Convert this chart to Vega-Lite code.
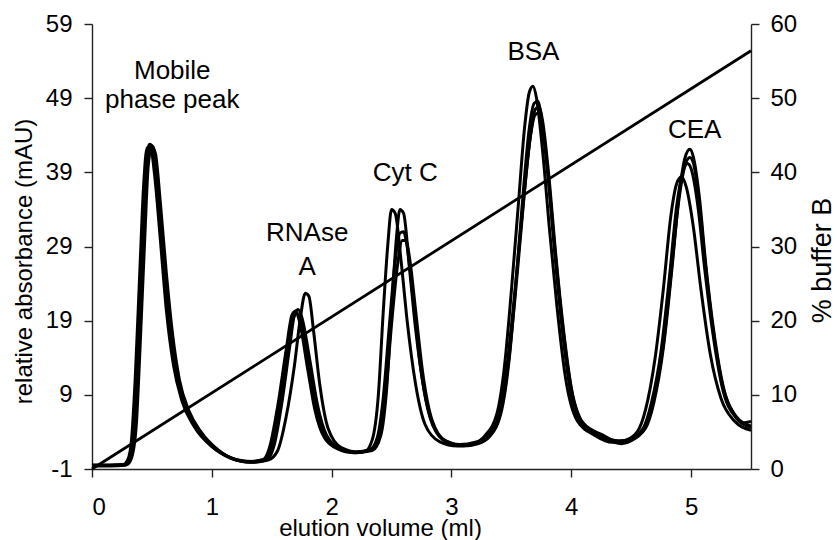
{
"$schema": "https://vega.github.io/schema/vega-lite/v6.json",
"width": 659, "height": 445,
"autosize": "none",
"padding": {"left": 92, "top": 24, "right": 86, "bottom": 71},
"background": "white",
"config": {
  "view": {"stroke": null},
  "font": "Liberation Sans",
  "axis": {"grid": false, "domainColor": "#222", "domainWidth": 1.4, "tickColor": "#222", "tickWidth": 1.4, "tickSize": 8, "labelFont": "Liberation Sans", "labelFontSize": 24, "labelColor": "black", "titleFont": "Liberation Sans", "titleFontWeight": "normal", "titleColor": "black"}
},
"datasets": {
  "traces": [
{"run":"A","v":0,"a":-0.5},{"run":"A","v":0.15,"a":-0.5},{"run":"A","v":0.26,"a":-0.4},{"run":"A","v":0.3,"a":0.3},{"run":"A","v":0.33,"a":3},{"run":"A","v":0.36,"a":11},{"run":"A","v":0.4,"a":26},{"run":"A","v":0.43,"a":37},{"run":"A","v":0.46,"a":42.3},{"run":"A","v":0.49,"a":42.3},{"run":"A","v":0.52,"a":39},{"run":"A","v":0.57,"a":30},{"run":"A","v":0.62,"a":20.5},{"run":"A","v":0.68,"a":13},{"run":"A","v":0.75,"a":8.2},{"run":"A","v":0.85,"a":4.8},{"run":"A","v":1.0,"a":2.0},{"run":"A","v":1.15,"a":0.5},{"run":"A","v":1.3,"a":0},{"run":"A","v":1.43,"a":0.3},
{"run":"A","v":1.48,"a":1.8},{"run":"A","v":1.55,"a":7.5},{"run":"A","v":1.62,"a":15},{"run":"A","v":1.67,"a":19.8},{"run":"A","v":1.7,"a":20.3},{"run":"A","v":1.73,"a":19},{"run":"A","v":1.8,"a":12.5},{"run":"A","v":1.86,"a":7},{"run":"A","v":1.94,"a":3.2},{"run":"A","v":2.05,"a":1.7},{"run":"A","v":2.18,"a":1.2},{"run":"A","v":2.28,"a":1.4},
{"run":"A","v":2.34,"a":3},{"run":"A","v":2.39,"a":9},{"run":"A","v":2.43,"a":20},{"run":"A","v":2.47,"a":29.5},{"run":"A","v":2.5,"a":34},{"run":"A","v":2.53,"a":33.5},{"run":"A","v":2.58,"a":27},{"run":"A","v":2.63,"a":19},{"run":"A","v":2.7,"a":10.5},{"run":"A","v":2.78,"a":5},{"run":"A","v":2.9,"a":2.7},{"run":"A","v":3.05,"a":2.1},{"run":"A","v":3.18,"a":2.4},{"run":"A","v":3.28,"a":3.5},
{"run":"A","v":3.38,"a":6.5},{"run":"A","v":3.44,"a":12.5},{"run":"A","v":3.5,"a":23},{"run":"A","v":3.56,"a":35},{"run":"A","v":3.61,"a":45},{"run":"A","v":3.65,"a":49.8},{"run":"A","v":3.68,"a":50.6},{"run":"A","v":3.71,"a":49},{"run":"A","v":3.76,"a":42},{"run":"A","v":3.82,"a":31},{"run":"A","v":3.88,"a":21},{"run":"A","v":3.95,"a":11.5},{"run":"A","v":4.05,"a":5.5},{"run":"A","v":4.2,"a":3.5},{"run":"A","v":4.34,"a":2.6},{"run":"A","v":4.44,"a":2.8},
{"run":"A","v":4.55,"a":4},{"run":"A","v":4.62,"a":7},{"run":"A","v":4.7,"a":14},{"run":"A","v":4.77,"a":23.5},{"run":"A","v":4.83,"a":33},{"run":"A","v":4.88,"a":37.5},{"run":"A","v":4.92,"a":38.4},{"run":"A","v":4.96,"a":37},{"run":"A","v":5.02,"a":31.5},{"run":"A","v":5.08,"a":23.5},{"run":"A","v":5.16,"a":14.5},{"run":"A","v":5.25,"a":8.5},{"run":"A","v":5.36,"a":5.5},{"run":"A","v":5.5,"a":4.2},

{"run":"B","v":0,"a":-0.6},{"run":"B","v":0.15,"a":-0.6},{"run":"B","v":0.28,"a":-0.5},{"run":"B","v":0.32,"a":0.5},{"run":"B","v":0.35,"a":4},{"run":"B","v":0.38,"a":13},{"run":"B","v":0.42,"a":28},{"run":"B","v":0.45,"a":38.5},{"run":"B","v":0.48,"a":42.6},{"run":"B","v":0.51,"a":42},{"run":"B","v":0.55,"a":37},{"run":"B","v":0.6,"a":27.5},{"run":"B","v":0.65,"a":19},{"run":"B","v":0.71,"a":12},{"run":"B","v":0.78,"a":7.6},{"run":"B","v":0.88,"a":4.4},{"run":"B","v":1.02,"a":1.9},{"run":"B","v":1.17,"a":0.4},{"run":"B","v":1.33,"a":-0.1},{"run":"B","v":1.47,"a":0.2},
{"run":"B","v":1.55,"a":1.5},{"run":"B","v":1.62,"a":6},{"run":"B","v":1.69,"a":13},{"run":"B","v":1.74,"a":19.5},{"run":"B","v":1.78,"a":22.7},{"run":"B","v":1.81,"a":22.3},{"run":"B","v":1.85,"a":17.5},{"run":"B","v":1.9,"a":10.5},{"run":"B","v":1.97,"a":4.5},{"run":"B","v":2.08,"a":1.9},{"run":"B","v":2.22,"a":1.3},{"run":"B","v":2.34,"a":1.5},
{"run":"B","v":2.41,"a":3.5},{"run":"B","v":2.46,"a":10},{"run":"B","v":2.5,"a":20.5},{"run":"B","v":2.54,"a":30},{"run":"B","v":2.57,"a":34},{"run":"B","v":2.6,"a":33.5},{"run":"B","v":2.65,"a":26},{"run":"B","v":2.7,"a":18},{"run":"B","v":2.77,"a":9.8},{"run":"B","v":2.85,"a":4.8},{"run":"B","v":2.96,"a":2.6},{"run":"B","v":3.1,"a":2.1},{"run":"B","v":3.22,"a":2.4},{"run":"B","v":3.32,"a":3.4},
{"run":"B","v":3.42,"a":7},{"run":"B","v":3.48,"a":13.5},{"run":"B","v":3.54,"a":24.5},{"run":"B","v":3.6,"a":36.5},{"run":"B","v":3.65,"a":45},{"run":"B","v":3.69,"a":48.3},{"run":"B","v":3.72,"a":48.6},{"run":"B","v":3.75,"a":46.5},{"run":"B","v":3.8,"a":39.5},{"run":"B","v":3.86,"a":28.5},{"run":"B","v":3.92,"a":18.5},{"run":"B","v":3.99,"a":9.8},{"run":"B","v":4.09,"a":5},{"run":"B","v":4.25,"a":3.4},{"run":"B","v":4.4,"a":2.8},{"run":"B","v":4.5,"a":3},
{"run":"B","v":4.62,"a":4.5},{"run":"B","v":4.69,"a":8},{"run":"B","v":4.77,"a":15.5},{"run":"B","v":4.84,"a":26},{"run":"B","v":4.9,"a":36},{"run":"B","v":4.95,"a":41},{"run":"B","v":4.99,"a":42.1},{"run":"B","v":5.02,"a":41},{"run":"B","v":5.07,"a":35.5},{"run":"B","v":5.12,"a":27},{"run":"B","v":5.19,"a":17.5},{"run":"B","v":5.27,"a":10},{"run":"B","v":5.37,"a":6.2},{"run":"B","v":5.5,"a":4.8},

{"run":"C","v":0,"a":-0.5},{"run":"C","v":0.15,"a":-0.5},{"run":"C","v":0.29,"a":-0.4},{"run":"C","v":0.33,"a":0.5},{"run":"C","v":0.37,"a":5},{"run":"C","v":0.4,"a":15},{"run":"C","v":0.44,"a":30},{"run":"C","v":0.47,"a":40},{"run":"C","v":0.5,"a":42.5},{"run":"C","v":0.53,"a":41.5},{"run":"C","v":0.57,"a":35},{"run":"C","v":0.62,"a":25.5},{"run":"C","v":0.67,"a":17.5},{"run":"C","v":0.73,"a":11},{"run":"C","v":0.81,"a":6.8},{"run":"C","v":0.91,"a":4},{"run":"C","v":1.05,"a":1.6},{"run":"C","v":1.2,"a":0.3},{"run":"C","v":1.36,"a":0},{"run":"C","v":1.47,"a":0.4},
{"run":"C","v":1.52,"a":2.2},{"run":"C","v":1.59,"a":8.5},{"run":"C","v":1.65,"a":15.5},{"run":"C","v":1.69,"a":19.8},{"run":"C","v":1.72,"a":20.5},{"run":"C","v":1.75,"a":19.5},{"run":"C","v":1.82,"a":13.5},{"run":"C","v":1.88,"a":7.8},{"run":"C","v":1.96,"a":3.5},{"run":"C","v":2.07,"a":1.8},{"run":"C","v":2.2,"a":1.3},{"run":"C","v":2.32,"a":1.6},
{"run":"C","v":2.38,"a":3.2},{"run":"C","v":2.43,"a":8.5},{"run":"C","v":2.48,"a":18},{"run":"C","v":2.53,"a":27},{"run":"C","v":2.57,"a":30.8},{"run":"C","v":2.6,"a":31},{"run":"C","v":2.63,"a":29},{"run":"C","v":2.68,"a":22},{"run":"C","v":2.74,"a":13},{"run":"C","v":2.82,"a":6},{"run":"C","v":2.93,"a":3},{"run":"C","v":3.07,"a":2.3},{"run":"C","v":3.2,"a":2.6},{"run":"C","v":3.3,"a":3.6},
{"run":"C","v":3.4,"a":6.8},{"run":"C","v":3.46,"a":12.5},{"run":"C","v":3.53,"a":23},{"run":"C","v":3.6,"a":35},{"run":"C","v":3.66,"a":44},{"run":"C","v":3.7,"a":47.5},{"run":"C","v":3.73,"a":47.8},{"run":"C","v":3.76,"a":46},{"run":"C","v":3.81,"a":39},{"run":"C","v":3.87,"a":28},{"run":"C","v":3.93,"a":18.5},{"run":"C","v":4.0,"a":10},{"run":"C","v":4.1,"a":5.2},{"run":"C","v":4.26,"a":3.6},{"run":"C","v":4.4,"a":2.6},{"run":"C","v":4.48,"a":2.9},
{"run":"C","v":4.6,"a":4.5},{"run":"C","v":4.67,"a":8},{"run":"C","v":4.75,"a":15},{"run":"C","v":4.82,"a":25},{"run":"C","v":4.88,"a":34.5},{"run":"C","v":4.93,"a":39},{"run":"C","v":4.97,"a":40.2},{"run":"C","v":5.0,"a":39.5},{"run":"C","v":5.06,"a":34},{"run":"C","v":5.11,"a":26.5},{"run":"C","v":5.18,"a":17.5},{"run":"C","v":5.26,"a":10},{"run":"C","v":5.37,"a":6},{"run":"C","v":5.5,"a":4.6},

{"run":"D","v":0,"a":-0.5},{"run":"D","v":0.15,"a":-0.5},{"run":"D","v":0.27,"a":-0.4},{"run":"D","v":0.31,"a":0.4},{"run":"D","v":0.35,"a":4.5},{"run":"D","v":0.38,"a":14},{"run":"D","v":0.42,"a":29},{"run":"D","v":0.45,"a":39.5},{"run":"D","v":0.48,"a":42.8},{"run":"D","v":0.51,"a":42.4},{"run":"D","v":0.54,"a":38.5},{"run":"D","v":0.59,"a":29},{"run":"D","v":0.64,"a":20},{"run":"D","v":0.7,"a":12.5},{"run":"D","v":0.77,"a":8},{"run":"D","v":0.87,"a":4.6},{"run":"D","v":1.01,"a":2},{"run":"D","v":1.16,"a":0.5},{"run":"D","v":1.32,"a":-0.1},{"run":"D","v":1.45,"a":0.2},
{"run":"D","v":1.5,"a":1.8},{"run":"D","v":1.57,"a":8},{"run":"D","v":1.63,"a":15},{"run":"D","v":1.68,"a":19.3},{"run":"D","v":1.71,"a":20},{"run":"D","v":1.74,"a":19},{"run":"D","v":1.81,"a":13},{"run":"D","v":1.87,"a":7.5},{"run":"D","v":1.95,"a":3.4},{"run":"D","v":2.06,"a":1.8},{"run":"D","v":2.2,"a":1.2},{"run":"D","v":2.31,"a":1.5},
{"run":"D","v":2.4,"a":3.4},{"run":"D","v":2.45,"a":9},{"run":"D","v":2.5,"a":18.5},{"run":"D","v":2.55,"a":26.5},{"run":"D","v":2.59,"a":29.8},{"run":"D","v":2.62,"a":29.8},{"run":"D","v":2.65,"a":27.5},{"run":"D","v":2.7,"a":20.5},{"run":"D","v":2.76,"a":12},{"run":"D","v":2.84,"a":5.5},{"run":"D","v":2.95,"a":2.8},{"run":"D","v":3.09,"a":2.2},{"run":"D","v":3.22,"a":2.5},{"run":"D","v":3.32,"a":3.5},
{"run":"D","v":3.42,"a":7.5},{"run":"D","v":3.48,"a":14},{"run":"D","v":3.55,"a":25.5},{"run":"D","v":3.61,"a":36.5},{"run":"D","v":3.66,"a":44},{"run":"D","v":3.7,"a":46.8},{"run":"D","v":3.73,"a":47},{"run":"D","v":3.76,"a":45},{"run":"D","v":3.81,"a":38},{"run":"D","v":3.87,"a":27.5},{"run":"D","v":3.93,"a":18},{"run":"D","v":4.0,"a":9.8},{"run":"D","v":4.1,"a":5},{"run":"D","v":4.26,"a":3.3},{"run":"D","v":4.42,"a":2.4},{"run":"D","v":4.5,"a":2.8},
{"run":"D","v":4.62,"a":4.8},{"run":"D","v":4.69,"a":8.5},{"run":"D","v":4.77,"a":16},{"run":"D","v":4.84,"a":26.5},{"run":"D","v":4.9,"a":35.5},{"run":"D","v":4.95,"a":40},{"run":"D","v":4.99,"a":41},{"run":"D","v":5.02,"a":40.2},{"run":"D","v":5.07,"a":34.5},{"run":"D","v":5.12,"a":26.5},{"run":"D","v":5.19,"a":17},{"run":"D","v":5.27,"a":9.8},{"run":"D","v":5.36,"a":6.4},{"run":"D","v":5.43,"a":5.2},{"run":"D","v":5.5,"a":5.4}
  ],
  "labels": [
    {"v": 0.67, "a": 51.6, "t": "Mobile"},
    {"v": 0.67, "a": 47.7, "t": "phase peak"},
    {"v": 1.796, "a": 29.74, "t": "RNAse"},
    {"v": 1.796, "a": 25.16, "t": "A"},
    {"v": 2.615, "a": 37.83, "t": "Cyt C"},
    {"v": 3.684, "a": 54.1, "t": "BSA"},
    {"v": 5.03, "a": 43.6, "t": "CEA"}
  ],
  "gradient": [
    {"v": 0, "b": 0},
    {"v": 5.5, "b": 56.4}
  ]
},
"layer": [
  {
    "layer": [
      {
        "data": {"name": "traces"},
        "mark": {"type": "line", "color": "black", "strokeWidth": 3, "interpolate": "monotone", "clip": true},
        "encoding": {
          "x": {"field": "v", "type": "quantitative", "scale": {"domain": [0, 5.5], "nice": false, "zero": false},
                "axis": {"values": [0,1,2,3,4,5], "format": "d", "title": "elution volume (ml)", "titleFontSize": 24, "labelPadding": 18, "titleX": 288, "titleY": 59, "titleBaseline": "middle", "titleAlign": "center"}},
          "y": {"field": "a", "type": "quantitative", "scale": {"domain": [-1, 59], "nice": false, "zero": false},
                "axis": {"values": [-1,9,19,29,39,49,59], "labelExpr": "'' + datum.value", "title": "relative absorbance (mAU)", "titleFontSize": 24, "labelPadding": 12, "titleX": -68, "titleY": 237, "titleBaseline": "middle", "titleAlign": "center", "titleAngle": 270}},
          "detail": {"field": "run", "type": "nominal"}
        }
      },
      {
        "data": {"name": "labels"},
        "mark": {"type": "text", "fontSize": 26, "font": "Liberation Sans", "color": "black", "align": "center", "baseline": "alphabetic"},
        "encoding": {
          "x": {"field": "v", "type": "quantitative"},
          "y": {"field": "a", "type": "quantitative"},
          "text": {"field": "t"}
        }
      }
    ]
  },
  {
    "data": {"name": "gradient"},
    "mark": {"type": "line", "color": "black", "strokeWidth": 2.8},
    "encoding": {
      "x": {"field": "v", "type": "quantitative"},
      "y": {"field": "b", "type": "quantitative", "scale": {"domain": [0, 60], "nice": false},
            "axis": {"orient": "right", "values": [0,10,20,30,40,50,60], "title": "% buffer B", "titleFontSize": 27, "labelPadding": 11, "titleX": 71, "titleY": 236, "titleBaseline": "middle", "titleAlign": "center", "titleAngle": 270}}
    }
  }
],
"resolve": {"scale": {"y": "independent"}}
}
